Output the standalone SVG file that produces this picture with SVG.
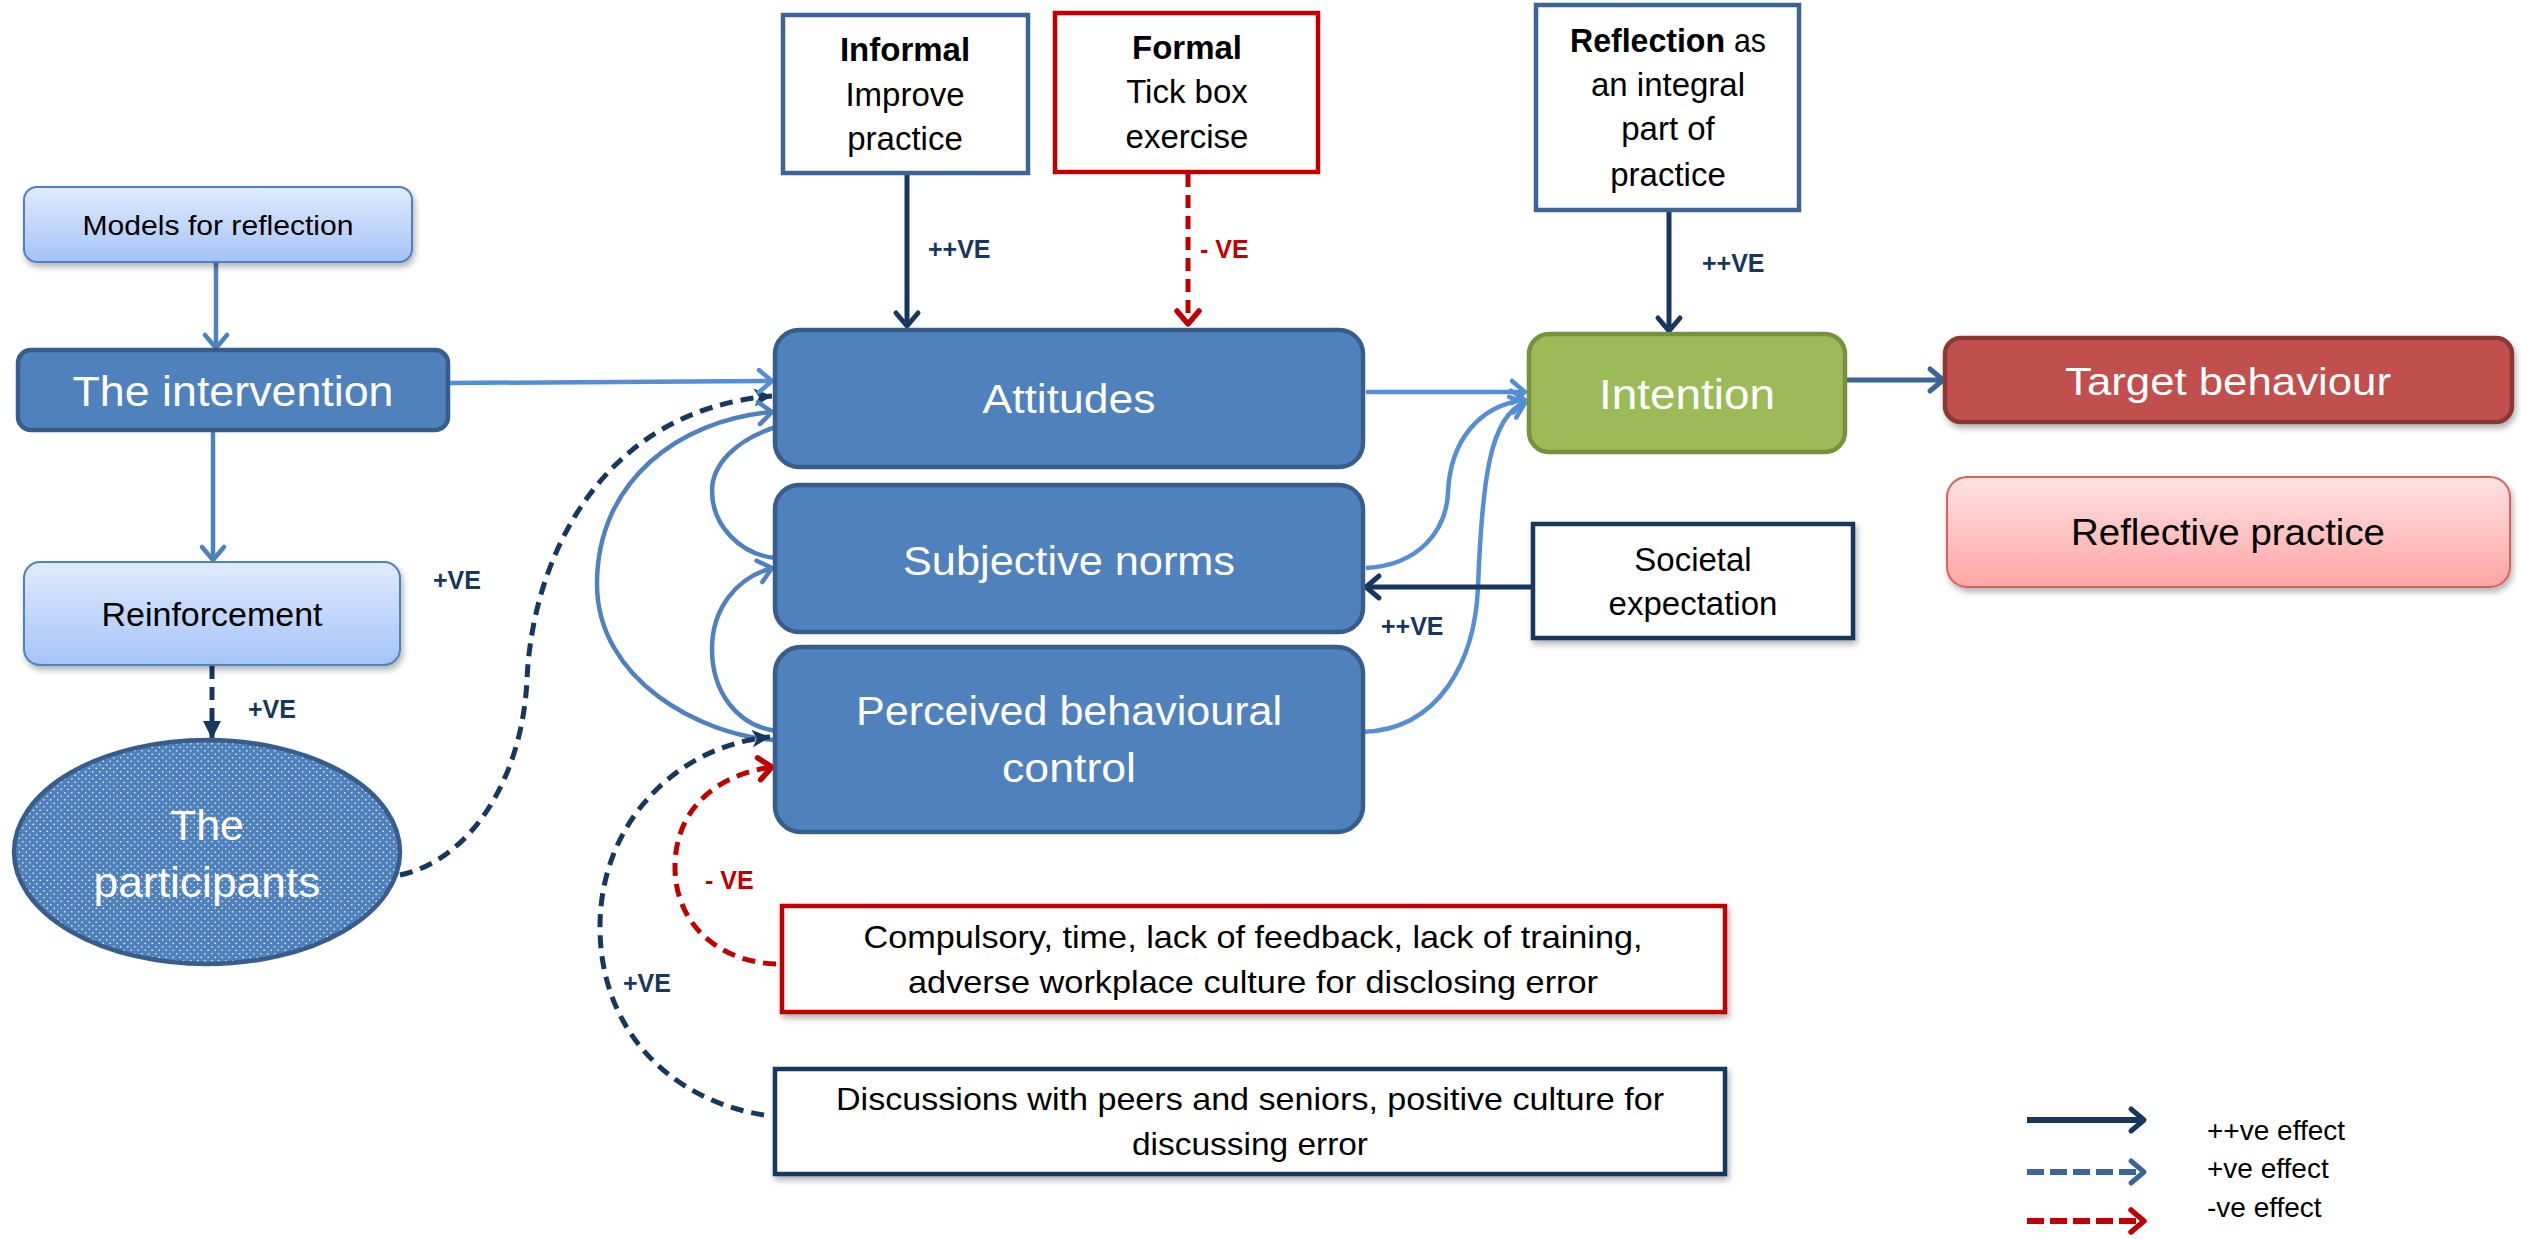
<svg xmlns="http://www.w3.org/2000/svg" width="2521" height="1239" viewBox="0 0 2521 1239">
<style>
text{font-family:"Liberation Sans",Arial,sans-serif;}
.w{fill:#fff;}
.k{fill:#000;}
.c{text-anchor:middle;}
.lbl{font-weight:bold;font-size:25px;text-anchor:start;}
.nv{fill:#17375E;}
.rd{fill:#C00000;}
.main{fill:#4F81BD;stroke:#385D8A;stroke-width:4.5;}
.light{fill:url(#gBlue);stroke:#4F81BD;stroke-width:2;}
.wb{fill:#fff;stroke-width:4.5;}
.cn{fill:none;}
.cl{stroke:#558ED5;stroke-width:4.5;}
.cm{stroke:#4F81BD;stroke-width:4.5;}
.cnv{stroke:#17375E;stroke-width:5;}
.crd{stroke:#C00000;stroke-width:5;}
.dash{stroke-dasharray:13 8;}
</style>
<defs>
<linearGradient id="gBlue" x1="0" y1="0" x2="0" y2="1"><stop offset="0" stop-color="#E0EBFD"/><stop offset="1" stop-color="#A5C3F8"/></linearGradient>
<linearGradient id="gPink" x1="0" y1="0" x2="0" y2="1"><stop offset="0" stop-color="#FFE2E2"/><stop offset="1" stop-color="#FFA4A4"/></linearGradient>
<pattern id="dots" width="7" height="7" patternUnits="userSpaceOnUse"><rect width="7" height="7" fill="#4F81BD"/><circle cx="1.75" cy="1.75" r="0.85" fill="#E8EFF8"/><circle cx="5.25" cy="5.25" r="0.85" fill="#E8EFF8"/></pattern>
<filter id="sh" x="-10%" y="-20%" width="120%" height="150%"><feDropShadow dx="2" dy="4" stdDeviation="3" flood-color="#000" flood-opacity="0.3"/></filter>
<marker id="aL" markerUnits="userSpaceOnUse" viewBox="-20 -15 26 30" markerWidth="26" markerHeight="30" refX="0" refY="0" orient="auto"><path d="M-13,-11 L0,0 L-13,11" fill="none" stroke="#558ED5" stroke-width="4.5" stroke-linecap="round" stroke-linejoin="round"/></marker>
<marker id="aM" markerUnits="userSpaceOnUse" viewBox="-20 -15 26 30" markerWidth="26" markerHeight="30" refX="0" refY="0" orient="auto"><path d="M-13,-11 L0,0 L-13,11" fill="none" stroke="#4F81BD" stroke-width="4.5" stroke-linecap="round" stroke-linejoin="round"/></marker>
<marker id="aN" markerUnits="userSpaceOnUse" viewBox="-20 -15 26 30" markerWidth="26" markerHeight="30" refX="0" refY="0" orient="auto"><path d="M-13,-11 L0,0 L-13,11" fill="none" stroke="#17375E" stroke-width="5" stroke-linecap="round" stroke-linejoin="round"/></marker>
<marker id="aS" markerUnits="userSpaceOnUse" viewBox="-20 -15 26 30" markerWidth="26" markerHeight="30" refX="0" refY="0" orient="auto"><path d="M-13,-11 L0,0 L-13,11" fill="none" stroke="#3A6596" stroke-width="5" stroke-linecap="round" stroke-linejoin="round"/></marker>
<marker id="aR" markerUnits="userSpaceOnUse" viewBox="-20 -15 26 30" markerWidth="26" markerHeight="30" refX="0" refY="0" orient="auto"><path d="M-13,-11 L0,0 L-13,11" fill="none" stroke="#C00000" stroke-width="5.5" stroke-linecap="round" stroke-linejoin="round"/></marker>
<marker id="tN" markerUnits="userSpaceOnUse" viewBox="-22 -12 26 24" markerWidth="26" markerHeight="24" refX="0" refY="0" orient="auto"><path d="M-18,-9 L0,0 L-18,9 L-13,0 Z" fill="#17375E"/></marker>
<marker id="tN2" markerUnits="userSpaceOnUse" viewBox="-22 -12 26 24" markerWidth="26" markerHeight="24" refX="0" refY="0" orient="auto"><path d="M-18,-9 L0,0 L-18,9 Z" fill="#17375E"/></marker>
</defs>
<rect width="2521" height="1239" fill="#fff"/>

<g id="connectors">
<line class="cn cm" x1="216" y1="263" x2="216" y2="348" marker-end="url(#aM)"/>
<line class="cn cm" x1="213" y1="431" x2="213" y2="560" marker-end="url(#aM)"/>
<line class="cn cnv dash" x1="212" y1="666" x2="212" y2="739" marker-end="url(#tN2)"/>
<path class="cn cnv dash" d="M400,875 C470,860 522,780 527,680 C532,560 600,410 772,396" marker-end="url(#tN)"/>
<line class="cn cl" x1="449" y1="383" x2="772" y2="381" marker-end="url(#aL)"/>
<path class="cn cm" d="M775,740 C700,735 597,680 597,584 C597,480 680,420 772,412" marker-end="url(#aM)"/>
<path class="cn cm" d="M776,427 C735,440 712,465 712,491 C712,525 740,555 776,558"/>
<path class="cn cm" d="M776,731 C735,725 712,690 712,649 C712,610 735,578 772,568" marker-end="url(#aM)"/>
<path class="cn cnv dash" d="M764,1115 C670,1100 600,1030 600,927 C600,820 680,745 770,737" marker-end="url(#tN)"/>
<path class="cn crd dash" d="M776,964 C720,962 675,925 675,867 C675,810 715,775 772,767" marker-end="url(#aR)"/>
<line class="cn cnv" x1="907" y1="175" x2="907" y2="326" marker-end="url(#aN)"/>
<line class="cn crd dash" x1="1188" y1="174" x2="1188" y2="324" marker-end="url(#aR)"/>
<line class="cn cl" x1="1366" y1="392" x2="1525" y2="392" marker-end="url(#aL)"/>
<path class="cn cl" d="M1366,568 C1420,565 1446,530 1448,493 C1450,440 1480,405 1525,400" marker-end="url(#aL)"/>
<path class="cn cl" d="M1362,732 C1440,730 1475,660 1478,587 C1482,480 1490,415 1525,403" marker-end="url(#aL)"/>
<line class="cn cnv" x1="1669" y1="212" x2="1669" y2="331" marker-end="url(#aN)"/>
<line class="cn cnv" x1="1531" y1="587" x2="1366" y2="587" marker-end="url(#aN)"/>
<line class="cn" stroke="#3A6596" stroke-width="5" x1="1847" y1="380" x2="1943" y2="380" marker-end="url(#aS)"/>
<text class="lbl nv" x="928" y="258">++VE</text>
<text class="lbl rd" x="1200" y="258">- VE</text>
<text class="lbl nv" x="1702" y="272">++VE</text>
<text class="lbl nv" x="1381" y="635">++VE</text>
<text class="lbl nv" x="433" y="589">+VE</text>
<text class="lbl nv" x="248" y="718">+VE</text>
<text class="lbl rd" x="705" y="889">- VE</text>
<text class="lbl nv" x="623" y="992">+VE</text>
</g>

<g id="models">
<rect class="light" x="24" y="187" width="388" height="75" rx="13" filter="url(#sh)"/>
<text class="k c" x="218" y="235" font-size="28" textLength="271" lengthAdjust="spacingAndGlyphs">Models for reflection</text>
</g>
<g id="intervention">
<rect class="main" x="18" y="350" width="430" height="80" rx="13"/>
<text class="w c" x="233" y="406" font-size="42" textLength="321" lengthAdjust="spacingAndGlyphs">The intervention</text>
</g>
<g id="reinforcement">
<rect class="light" x="24" y="562" width="376" height="103" rx="16" filter="url(#sh)"/>
<text class="k c" x="212" y="626" font-size="33" textLength="221" lengthAdjust="spacingAndGlyphs">Reinforcement</text>
</g>
<g id="participants">
<ellipse cx="207" cy="852" rx="193" ry="112" fill="url(#dots)" stroke="#385D8A" stroke-width="4.5"/>
<text class="w c" x="207" y="840" font-size="43">The</text>
<text class="w c" x="207" y="897" font-size="43" textLength="227" lengthAdjust="spacingAndGlyphs">participants</text>
</g>
<g id="informal">
<rect class="wb" stroke="#3C6595" x="783" y="15" width="245" height="158"/>
<text class="k c" x="905" y="61" font-size="33" font-weight="bold">Informal</text>
<text class="k c" x="905" y="106" font-size="33">Improve</text>
<text class="k c" x="905" y="150" font-size="33">practice</text>
</g>
<g id="formal">
<rect class="wb" stroke="#C00000" stroke-width="5" x="1055" y="13" width="263" height="159"/>
<text class="k c" x="1187" y="59" font-size="33" font-weight="bold">Formal</text>
<text class="k c" x="1187" y="103" font-size="33">Tick box</text>
<text class="k c" x="1187" y="148" font-size="33">exercise</text>
</g>
<g id="reflection-integral">
<rect class="wb" stroke="#3C6595" x="1536" y="5" width="263" height="205"/>
<text class="k" x="1570" y="52" font-size="33" font-weight="bold" textLength="155" lengthAdjust="spacingAndGlyphs">Reflection</text>
<text class="k" x="1734" y="52" font-size="33" textLength="32" lengthAdjust="spacingAndGlyphs">as</text>
<text class="k c" x="1668" y="96" font-size="33">an integral</text>
<text class="k c" x="1668" y="140" font-size="33">part of</text>
<text class="k c" x="1668" y="186" font-size="33">practice</text>
</g>
<g id="attitudes">
<rect class="main" x="775" y="330" width="588" height="137" rx="24"/>
<text class="w c" x="1069" y="413" font-size="40" textLength="173" lengthAdjust="spacingAndGlyphs">Attitudes</text>
</g>
<g id="subjective-norms">
<rect class="main" x="775" y="485" width="588" height="147" rx="24"/>
<text class="w c" x="1069" y="575" font-size="40" textLength="332" lengthAdjust="spacingAndGlyphs">Subjective norms</text>
</g>
<g id="pbc">
<rect class="main" x="775" y="647" width="588" height="185" rx="26"/>
<text class="w c" x="1069" y="725" font-size="40" textLength="426" lengthAdjust="spacingAndGlyphs">Perceived behavioural</text>
<text class="w c" x="1069" y="782" font-size="40" textLength="134" lengthAdjust="spacingAndGlyphs">control</text>
</g>
<g id="intention">
<rect x="1529" y="334" width="316" height="118" rx="20" fill="#9BBB59" stroke="#76923C" stroke-width="4.5"/>
<text class="w c" x="1687" y="409" font-size="42" textLength="176" lengthAdjust="spacingAndGlyphs">Intention</text>
</g>
<g id="target-behaviour">
<rect x="1945" y="338" width="567" height="84" rx="16" fill="#C0504D" stroke="#8C3836" stroke-width="4.5" filter="url(#sh)"/>
<text class="w c" x="2228" y="395" font-size="39" textLength="326" lengthAdjust="spacingAndGlyphs">Target behaviour</text>
</g>
<g id="reflective-practice">
<rect x="1947" y="477" width="563" height="110" rx="20" fill="url(#gPink)" stroke="#D9605C" stroke-width="2" filter="url(#sh)"/>
<text class="k c" x="2228" y="545" font-size="37" textLength="314" lengthAdjust="spacingAndGlyphs">Reflective practice</text>
</g>
<g id="societal">
<rect class="wb" stroke="#17375E" x="1533" y="524" width="320" height="114" filter="url(#sh)"/>
<text class="k c" x="1693" y="571" font-size="33">Societal</text>
<text class="k c" x="1693" y="615" font-size="33">expectation</text>
</g>
<g id="barriers">
<rect class="wb" stroke="#C00000" stroke-width="5.5" x="782" y="906" width="943" height="106" filter="url(#sh)"/>
<text class="k c" x="1253" y="948" font-size="32" textLength="779" lengthAdjust="spacingAndGlyphs">Compulsory, time, lack of feedback, lack of training,</text>
<text class="k c" x="1253" y="993" font-size="32" textLength="690" lengthAdjust="spacingAndGlyphs">adverse workplace culture for disclosing error</text>
</g>
<g id="enablers">
<rect class="wb" stroke="#17375E" stroke-width="5.5" x="775" y="1069" width="950" height="105" filter="url(#sh)"/>
<text class="k c" x="1250" y="1110" font-size="32" textLength="828" lengthAdjust="spacingAndGlyphs">Discussions with peers and seniors, positive culture for</text>
<text class="k c" x="1250" y="1155" font-size="32" textLength="236" lengthAdjust="spacingAndGlyphs">discussing error</text>
</g>
<g id="legend">
<line class="cn" stroke="#17375E" stroke-width="6" x1="2027" y1="1120" x2="2144" y2="1120" marker-end="url(#aN)"/>
<line class="cn" stroke="#3A6596" stroke-width="6" stroke-dasharray="17 6" x1="2027" y1="1172" x2="2144" y2="1172" marker-end="url(#aS)"/>
<line class="cn" stroke="#C00000" stroke-width="6" stroke-dasharray="17 6" x1="2027" y1="1221" x2="2144" y2="1221" marker-end="url(#aR)"/>
<text class="k" x="2207" y="1140" font-size="28">++ve effect</text>
<text class="k" x="2207" y="1178" font-size="28">+ve effect</text>
<text class="k" x="2207" y="1217" font-size="28">-ve effect</text>
</g>
</svg>
